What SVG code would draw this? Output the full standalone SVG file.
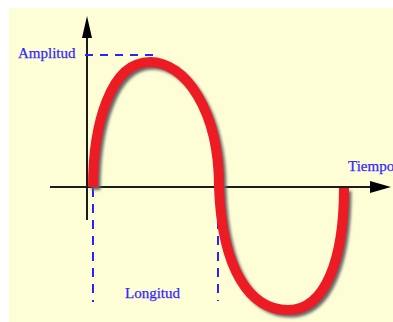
<svg xmlns="http://www.w3.org/2000/svg" width="393" height="322" viewBox="0 0 393 322">
  <defs>
    <filter id="blur" x="-10%" y="-10%" width="120%" height="120%">
      <feGaussianBlur stdDeviation="1.5"/>
    </filter>
    <style>
      .axis { stroke: #1c1c1c; stroke-width: 2; fill: none; }
      .head { fill: #000; }
      .dash { stroke: #2a22ff; stroke-width: 2; fill: none; }
      .lbl { font-family: "Liberation Serif", "Times New Roman", serif; font-size: 15px; fill: #3326ff; stroke: #3326ff; stroke-width: 0.25; }
      .wave { fill: none; stroke: #ed1c24; stroke-width: 10; stroke-linecap: butt; }
      .shadow { fill: none; stroke: #666; stroke-width: 9; filter: url(#blur); }
    </style>
  </defs>
  <rect x="0" y="0" width="393" height="322" fill="#ffffff"/>
  <rect x="9" y="8" width="384" height="314" fill="#fefed6"/>

  <g id="axes">
    <line class="axis" x1="87" y1="36" x2="87" y2="220"/>
    <polygon class="head" points="87,16 82,38 92,38"/>
    <line class="axis" x1="50" y1="187" x2="372" y2="187"/>
    <polygon class="head" points="391,187 370,181 370,193"/>
  </g>

  <g id="guides">
    <line class="dash" x1="85" y1="55" x2="154" y2="55" stroke-dasharray="8,7"/>
    <line class="dash" x1="93" y1="188" x2="93" y2="302" stroke-dasharray="9,7"/>
    <line class="dash" x1="218" y1="188" x2="218" y2="301" stroke-dasharray="9,7"/>
  </g>

  <g id="wave">
    <path class="shadow" transform="translate(3,3)" d="M93,187 C93,125 110,62 150,62 C185,62 219,110 219,187 C222,270 250,310 288,310 C325,310 344,260 344,188"/>
    <path class="wave" d="M93,187 C93,125 110,62 150,62 C185,62 219,110 219,187 C222,270 250,310 288,310 C325,310 344,260 344,188"/>
  </g>

  <g id="labels">
    <text class="lbl" x="18" y="58">Amplitud</text>
    <text class="lbl" x="125" y="298">Longitud</text>
    <text class="lbl" x="348" y="171">Tiempo</text>
  </g>
</svg>
